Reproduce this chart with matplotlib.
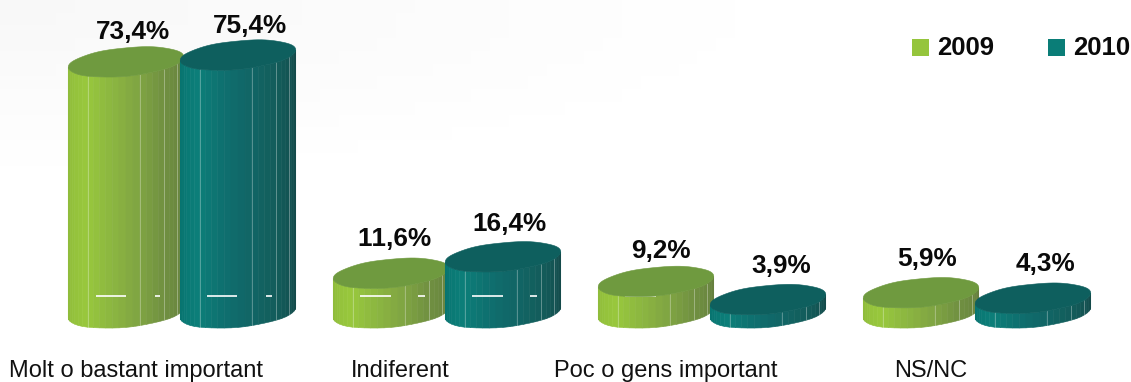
import matplotlib
matplotlib.use('Agg')
import matplotlib.pyplot as plt
from matplotlib.colors import LinearSegmentedColormap
from matplotlib.patches import Polygon, Rectangle
import numpy as np

plt.rcParams['font.family'] = ['Liberation Sans', 'DejaVu Sans']
plt.rcParams['text.kerning_factor'] = 6

categories = ['Molt o bastant important', 'Indiferent', 'Poc o gens important', 'NS/NC']
years = ['2009', '2010']
values_2009 = [73.4, 11.6, 9.2, 5.9]
values_2010 = [75.4, 16.4, 3.9, 4.3]
labels_2009 = ['73,4%', '11,6%', '9,2%', '5,9%']
labels_2010 = ['75,4%', '16,4%', '3,9%', '4,3%']

# pixels per unit of the two axes
px_x = 265.0
px_y = 3.42
W, H = 1131, 382
x0_px = 182.0
y0_px = 313.0

bar_step = 112 / px_x
semi_a = 58.0
semi_b = 14.2
tilt = np.radians(5.5)

side_2009 = LinearSegmentedColormap.from_list('s09', ['#8fbb3b', '#98c83c', '#86ad42', '#6f8f41', '#667f3e'])
side_2010 = LinearSegmentedColormap.from_list('s10', ['#07736f', '#0c7e79', '#10696a', '#135c5a', '#144a4a'])
top_2009 = '#6f9a3f'
top_2010 = '#0e5f5e'
edge_idx = [7, 15, 19, 22]

fig = plt.figure(figsize=(W / 100, H / 100), dpi=100)
ax = fig.add_axes([0, 0, 1, 1])
ax.set_xlim(-x0_px / px_x, (W - x0_px) / px_x)
ax.set_ylim((y0_px - H) / px_y, y0_px / px_y)
ax.axis('off')

# very light grey in the top left corner
gx, gy = np.meshgrid(np.linspace(0, 1, 60), np.linspace(0, 1, 30))
shade = np.clip(1 - np.hypot(gx / 0.75, gy / 0.5), 0, 1)
back = 1 - 0.03 * shade
ax.imshow(back, cmap='gray', vmin=0, vmax=1, origin='upper', extent=(*ax.get_xlim(), *ax.get_ylim()),
          aspect='auto', zorder=0)


def ring(t):
    # tilted, slightly bumpy ellipse, offsets in pixels with y going up
    bump = 1 + 0.012 * np.sin(7 * t) * np.abs(np.sin(t))
    ex = semi_a * np.cos(t) * bump
    ey = semi_b * np.sin(t) * bump
    return ex * np.cos(tilt) - ey * np.sin(tilt), ex * np.sin(tilt) + ey * np.cos(tilt)


def cylinder(cx, value, cmap, top_color, z, dashes):
    phi = np.arctan2(semi_b * np.sin(tilt), semi_a * np.cos(tilt))
    t = np.linspace(np.pi - phi, 2 * np.pi - phi, 27)
    ox, oy = ring(t)
    xs = cx + ox / px_x
    low = oy / px_y
    high = value + oy / px_y
    for i in range(len(t) - 1):
        col = cmap(i / (len(t) - 2))
        pts = [(xs[i], low[i]), (xs[i + 1], low[i + 1]), (xs[i + 1], high[i + 1]), (xs[i], high[i])]
        ax.add_patch(Polygon(pts, closed=True, fc=col, ec=col, lw=0.4, zorder=z))
        if i in edge_idx:
            ax.plot([xs[i], xs[i]], [low[i], high[i]], color='white', alpha=0.3, lw=0.7, zorder=z + 0.1)
    left = cx - semi_a / px_x
    for a, b in dashes:
        ax.plot([left + a / px_x, left + b / px_x], [5, 5],
                color='white', lw=1.2, zorder=z + 0.2, solid_capstyle='butt')
    ang = np.linspace(0, 2 * np.pi, 90)
    tx, ty = ring(ang)
    ax.add_patch(Polygon(np.column_stack([cx + tx / px_x, value + ty / px_y]), closed=True,
                         fc=top_color, ec=top_color, lw=0.4, zorder=z + 0.3))


dash_2009 = [[(28, 58), (87, 92)], [(27, 58), (85, 92)], [(27, 58)], []]
dash_2010 = [[(27, 57), (86, 92)], [(27, 58), (85, 92)], [], []]

# nudges of the value labels, pixels
off_2009 = [(7, 30), (3, 34), (5, 31), (6, 34)]
off_2010 = [(12, 29), (7, 33), (13, 34), (12, 34)]

for i in range(len(categories)):
    c09 = i - bar_step / 2
    c10 = i + bar_step / 2
    cylinder(c09, values_2009[i], side_2009, top_2009, 2 + i, dash_2009[i])
    cylinder(c10, values_2010[i], side_2010, top_2010, 2.5 + i, dash_2010[i])
    ax.annotate(labels_2009[i], (c09, values_2009[i]), xytext=(off_2009[i][0] * 0.72, off_2009[i][1] * 0.72),
                textcoords='offset points', ha='center', va='center', fontsize=18.8, fontweight='bold',
                color='#0a0a0a', zorder=20)
    ax.annotate(labels_2010[i], (c10, values_2010[i]), xytext=(off_2010[i][0] * 0.72, off_2010[i][1] * 0.72),
                textcoords='offset points', ha='center', va='center', fontsize=18.8, fontweight='bold',
                color='#0a0a0a', zorder=20)
    ax.text(i - 0.175, (y0_px - 377) / px_y, categories[i], ha='center', va='baseline',
            fontsize=17, color='#111111', zorder=20)

# legend
leg_x = [912, 1048]
leg_c = ['#95c53c', '#0a7d77']
for lx, lc, yr in zip(leg_x, leg_c, years):
    ax.add_patch(Rectangle(((lx - x0_px) / px_x, (y0_px - 56) / px_y), 17 / px_x, 17 / px_y,
                           fc=lc, ec='none', zorder=20))
    ax.text((lx + 25 - x0_px) / px_x, (y0_px - 48) / px_y, yr, ha='left', va='center',
            fontsize=18.5, fontweight='bold', color='#0a0a0a', zorder=20)

fig.savefig('out.png', dpi=100)
